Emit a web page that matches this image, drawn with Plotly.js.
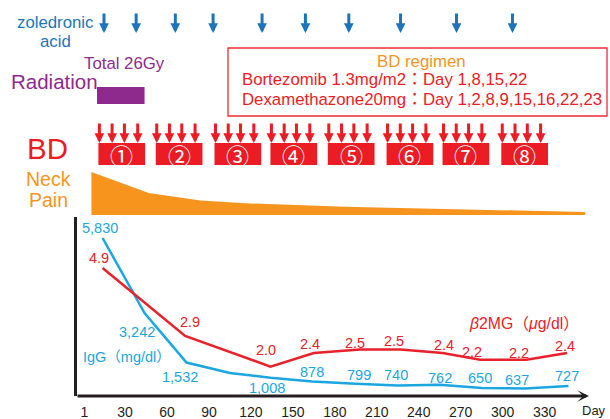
<!DOCTYPE html>
<html><head><meta charset="utf-8">
<script src="https://cdn.plot.ly/plotly-3.0.1.min.js"></script>
<style>html,body{margin:0;padding:0;background:#fff;}#chart{width:610px;height:419px;}</style>
</head><body><div id="chart"></div>
<script>
// ---------------- data ----------------
const tickDays   = [1, 30, 60, 90, 120, 150, 180, 210, 240, 270, 300, 330];
const tickLabels = ['1','30','60','90','120','150','180','210','240','270','300','330'];

const iggDays   = [14, 44, 74, 105, 134, 164, 195, 225, 255, 285, 316, 347];
const iggValues = [5830, 3242, 1532, 1175, 1008, 878, 799, 740, 762, 650, 637, 727];
const iggLabels = ['5,830','3,242','1,532','','1,008','878','799','740','762','650','637','727'];

const b2mgDays   = [14, 73, 134, 165, 198, 227, 257, 284, 317, 346];
const b2mgValues = [4.9, 2.9, 2.0, 2.4, 2.5, 2.5, 2.4, 2.2, 2.2, 2.4];
const b2mgLabels = ['4.9','2.9','2.0','2.4','2.5','2.5','2.4','2.2','2.2','2.4'];

const painDays  = [6, 47, 84, 119, 187, 359];
const painLevel = [1.0, 0.51, 0.34, 0.27, 0.19, 0.07];

const zoledronicDays = [15, 38, 66, 93, 128, 159, 190, 227, 267, 307];
const cycleStartDays = [11, 52, 94, 134, 175, 217, 257, 299];
const cycleLabels    = ['①','②','③','④','⑤','⑥','⑦','⑧'];
const radiationDays  = [10, 44];

// ---------------- style / layout helpers ----------------
const W = 610, H = 419;
const py = p => (H - p) / H;      // pixel-from-top -> paper y
const px = p => p / W;            // pixel-from-left -> paper x
const FONT = 'Liberation Sans, Arial, Noto Sans CJK JP, sans-serif';
const RED = '#ec1c24', LINE_RED = '#e8212a', BLUE = '#1ba6e0', ZBLUE = '#1c75bc';
const PURPLE = '#8e2a8d', ORANGE = '#f7941d', BLACK = '#231f20';
const cycleSpan = 33.4;                     // box width in days (drawing)
const doseOffsets = [0.7, 9.8, 18.6, 28.1]; // arrow positions inside a box
const iggShift  = [[-3,10],[-8,-19],[-7,-14],null,[-3,-10],[0,9.5],[3,9],[-2,10.5],[0,7],[-2,10],[-8,8.5],[-1,10]];
const b2mgShift = [[-4,10],[5,14],[-4,16.5],[-4,9],[-5,7],[-7,9],[1,8],[-8,8],[-7,7],[-2,7]];

const traces = [
  {x: painDays, y: painLevel, yaxis: 'y3', mode: 'lines', fill: 'tozeroy',
   fillcolor: ORANGE, line: {color: ORANGE, width: 0}, hoverinfo: 'skip'},
  {x: iggDays, y: iggValues, mode: 'lines', line: {color: BLUE, width: 2.5}, hoverinfo: 'skip'},
  {x: b2mgDays, y: b2mgValues, yaxis: 'y2', mode: 'lines', line: {color: LINE_RED, width: 2.5}, hoverinfo: 'skip'}
];

const shapes = [];
const annotations = [];

// radiation bar
shapes.push({type: 'rect', xref: 'x', yref: 'paper', x0: radiationDays[0], x1: radiationDays[1],
  y0: py(104), y1: py(87), fillcolor: PURPLE, line: {width: 0}});
// BD regimen frame
shapes.push({type: 'rect', xref: 'paper', yref: 'paper', x0: px(228), x1: px(607),
  y0: py(116), y1: py(48), fillcolor: 'rgba(0,0,0,0)', line: {color: '#ee2d33', width: 1.3}});

// cycles
cycleStartDays.forEach((d, i) => {
  shapes.push({type: 'rect', xref: 'x', yref: 'paper', x0: d, x1: d + cycleSpan,
    y0: py(165), y1: py(143), fillcolor: RED, line: {width: 0}});
  annotations.push({xref: 'x', yref: 'paper', x: d + cycleSpan / 2, y: py(155), text: cycleLabels[i],
    showarrow: false, height: 22, font: {family: 'Noto Sans CJK JP', size: 23, color: '#fff'}});
  doseOffsets.forEach(o => {
    annotations.push({xref: 'x', yref: 'paper', x: d + o, y: py(143), ax: 0, ay: -21, text: '',
      showarrow: true, arrowhead: 2, arrowsize: 0.65, arrowwidth: 3, arrowcolor: RED});
  });
});

// zoledronic acid arrows
zoledronicDays.forEach(d => {
  annotations.push({xref: 'x', yref: 'paper', x: d, y: py(33), ax: 0, ay: -21, text: '',
    showarrow: true, arrowhead: 2, arrowsize: 0.65, arrowwidth: 3, arrowcolor: ZBLUE});
});

// x axis arrow
annotations.push({xref: 'paper', yref: 'paper', x: px(589), y: py(396), ax: -513, ay: 0, text: '',
  showarrow: true, arrowhead: 3, arrowsize: 0.65, arrowwidth: 3, arrowcolor: BLACK});

// value labels
iggLabels.forEach((t, i) => {
  if (!t) return;
  annotations.push({xref: 'x', yref: 'y', x: iggDays[i], y: iggValues[i], text: t, showarrow: false,
    xshift: iggShift[i][0], yshift: iggShift[i][1], font: {family: FONT, size: 14.5, color: BLUE}});
});
b2mgLabels.forEach((t, i) => {
  annotations.push({xref: 'x', yref: 'y2', x: b2mgDays[i], y: b2mgValues[i], text: t, showarrow: false,
    xshift: b2mgShift[i][0], yshift: b2mgShift[i][1], font: {family: FONT, size: 14.5, color: LINE_RED}});
});

// texts
const txt = (t, x, y, size, color, anchor, h) => annotations.push({xref: 'paper', yref: 'paper',
  x: px(x), y: py(y), text: t, showarrow: false, xanchor: anchor || 'center', yanchor: 'middle',
  height: h, borderpad: 0, font: {family: FONT, size: size, color: color}});
txt('zoledronic', 55, 22, 16.8, ZBLUE, 'center', 18);
txt('acid', 55, 41, 16.8, ZBLUE, 'center', 18);
txt('Total 26Gy', 124, 64, 16.8, PURPLE);
txt('Radiation', 54, 82, 20.5, PURPLE);
txt('BD regimen', 422, 62, 16.8, ORANGE);
txt('Bortezomib 1.3mg/m2：Day 1,8,15,22', 241, 80, 16.8, RED, 'left', 19);
txt('Dexamethazone20mg：Day 1,2,8,9,15,16,22,23', 241, 100, 16.8, RED, 'left', 19);
txt('BD', 47, 148, 29.5, RED);
txt('Neck', 48, 179, 19.5, ORANGE, 'center', 20);
txt('Pain', 48, 200, 19.5, ORANGE, 'center', 20);
txt('IgG（mg/dl）', 127, 357, 14.5, BLUE);
txt('<i>β</i>2MG（<i>μ</i>g/dl）', 524, 323, 15.8, LINE_RED);
txt('Day', 607, 410, 13, BLACK, 'right');

const layout = {
  width: W, height: H, margin: {l: 0, r: 0, t: 0, b: 0},
  paper_bgcolor: '#fff', plot_bgcolor: 'rgba(0,0,0,0)', showlegend: false,
  font: {family: FONT},
  xaxis: {domain: [px(77), px(589)], range: [-4.29, 361.7], tickmode: 'array',
    tickvals: tickDays, ticktext: tickLabels, showline: false, showgrid: false, zeroline: false,
    ticks: '', ticklabelstandoff: 6, tickfont: {family: FONT, size: 14, color: BLACK}},
  yaxis: {domain: [py(396), py(217)], range: [378, 6555], showline: true, linecolor: BLACK,
    linewidth: 3, showticklabels: false, ticks: '', showgrid: false, zeroline: false},
  yaxis2: {overlaying: 'y', range: [1.135, 6.4], visible: false},
  yaxis3: {domain: [py(215), py(172)], range: [0, 1], visible: false, anchor: 'x'},
  shapes: shapes, annotations: annotations
};

Plotly.newPlot('chart', traces, layout, {displayModeBar: false, staticPlot: true});
</script></body></html>
